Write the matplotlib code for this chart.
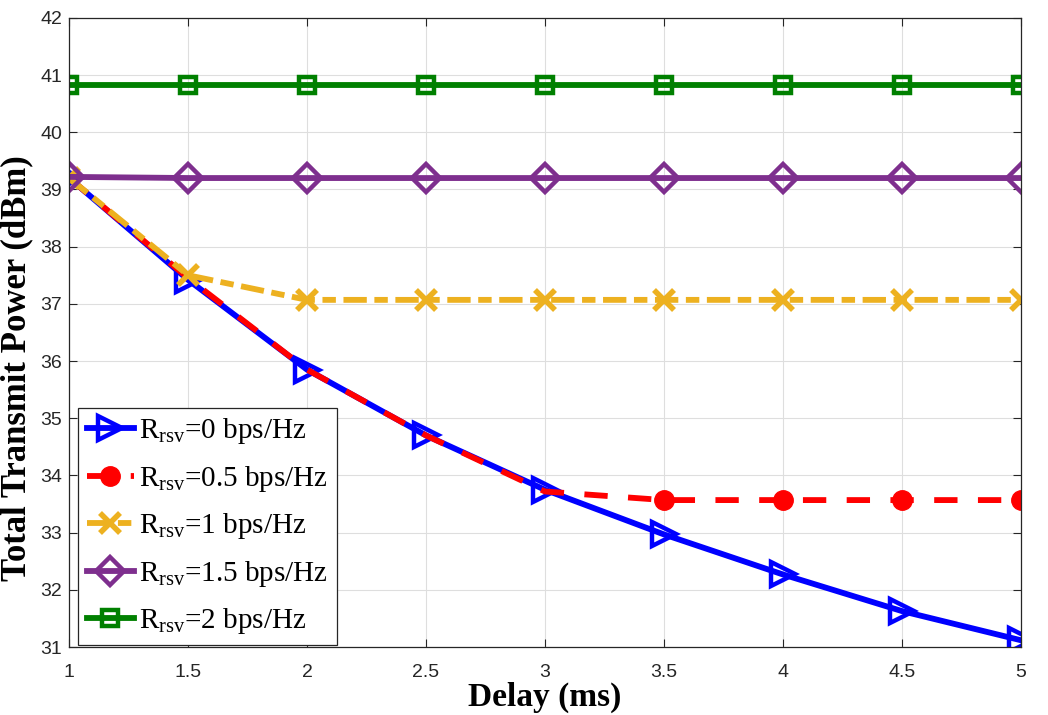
import matplotlib
matplotlib.use("Agg")
import matplotlib.pyplot as plt

plt.rcParams['font.family'] = ['Liberation Sans', 'DejaVu Sans']
plt.rcParams['mathtext.fontset'] = 'custom'
plt.rcParams['mathtext.rm'] = 'Liberation Serif'
plt.rcParams['mathtext.it'] = 'Liberation Serif:italic'

# data
delay = [1, 1.5, 2, 2.5, 3, 3.5, 4, 4.5, 5]
p_r0 = [39.2, 37.42, 35.85, 34.7, 33.75, 32.97, 32.27, 31.63, 31.12]
p_r05 = [39.2, 37.45, 35.85, 34.7, 33.72, 33.57, 33.57, 33.57, 33.57]
p_r1 = [39.2, 37.5, 37.07, 37.07, 37.07, 37.07, 37.07, 37.07, 37.07]
p_r15 = [39.22, 39.2, 39.2, 39.2, 39.2, 39.2, 39.2, 39.2, 39.2]
p_r2 = [40.82, 40.82, 40.82, 40.82, 40.82, 40.82, 40.82, 40.82, 40.82]
labels = ['0', '0.5', '1', '1.5', '2']

fig = plt.figure(figsize=(10.48, 7.15), dpi=100)
ax = fig.add_axes([0.066, 0.095, 0.908, 0.88])

lw = 4.2
def lab(v):
    return r'R$_{\rm rsv}$=' + v + ' bps/Hz'

ax.plot(delay, p_r0, color='#0000ff', lw=lw, ls='-', marker='>', ms=17,
        mfc='none', mew=3.2, label=lab(labels[0]))
# red markers are hidden under the blue curve up to 3 ms
ax.plot(delay, p_r05, color='#ff0000', lw=lw, ls=(0, (4, 3.5)), marker='o', ms=14,
        mew=1, markevery=[5, 6, 7, 8], label=lab(labels[1]))
ax.plot(delay, p_r1, color='#edb120', lw=lw, ls=(0, (4, 1.3, 2.3, 1.3)), marker='x', ms=14,
        mew=4, label=lab(labels[2]))
ax.plot(delay, p_r15, color='#7e2f8e', lw=lw, ls='-', marker='D', ms=14,
        mfc='none', mew=3.2, label=lab(labels[3]))
ax.plot(delay, p_r2, color='#008000', lw=lw, ls='-', marker='s', ms=11,
        mfc='none', mew=3.2, label=lab(labels[4]))

ax.set_xlim(1, 5)
ax.set_ylim(31, 42)
ax.set_xticks(delay)
ax.set_xticklabels(['1', '1.5', '2', '2.5', '3', '3.5', '4', '4.5', '5'])
ax.set_yticks(range(31, 43))
ax.tick_params(direction='in', top=True, right=True, labelsize=14, colors='#262626',
               length=6, width=0.8)
ax.tick_params(axis='x', pad=12)
ax.tick_params(axis='y', pad=5)
ax.grid(True, color='#dedede', lw=0.8)
ax.set_axisbelow(True)
for s in ax.spines.values():
    s.set_color('#262626')
    s.set_linewidth(0.9)

ax.set_xlabel('Delay (ms)', family='Liberation Serif', fontweight='bold', fontsize=24,
              labelpad=1)
ax.set_ylabel('Total Transmit Power (dBm)', family='Liberation Serif', fontweight='bold',
              fontsize=25)
ax.yaxis.set_label_coords(-0.038, 0.444)

leg = ax.legend(loc='lower left', bbox_to_anchor=(0.0095, 0.003),
                prop={'family': 'Liberation Serif', 'size': 21},
                handlelength=1.6, handletextpad=0.2, borderaxespad=0,
                labelspacing=0.6, fancybox=False, framealpha=1,
                edgecolor='#262626', borderpad=0.3)
leg.get_frame().set_linewidth(0.9)

fig.savefig('out.png', dpi=100)
